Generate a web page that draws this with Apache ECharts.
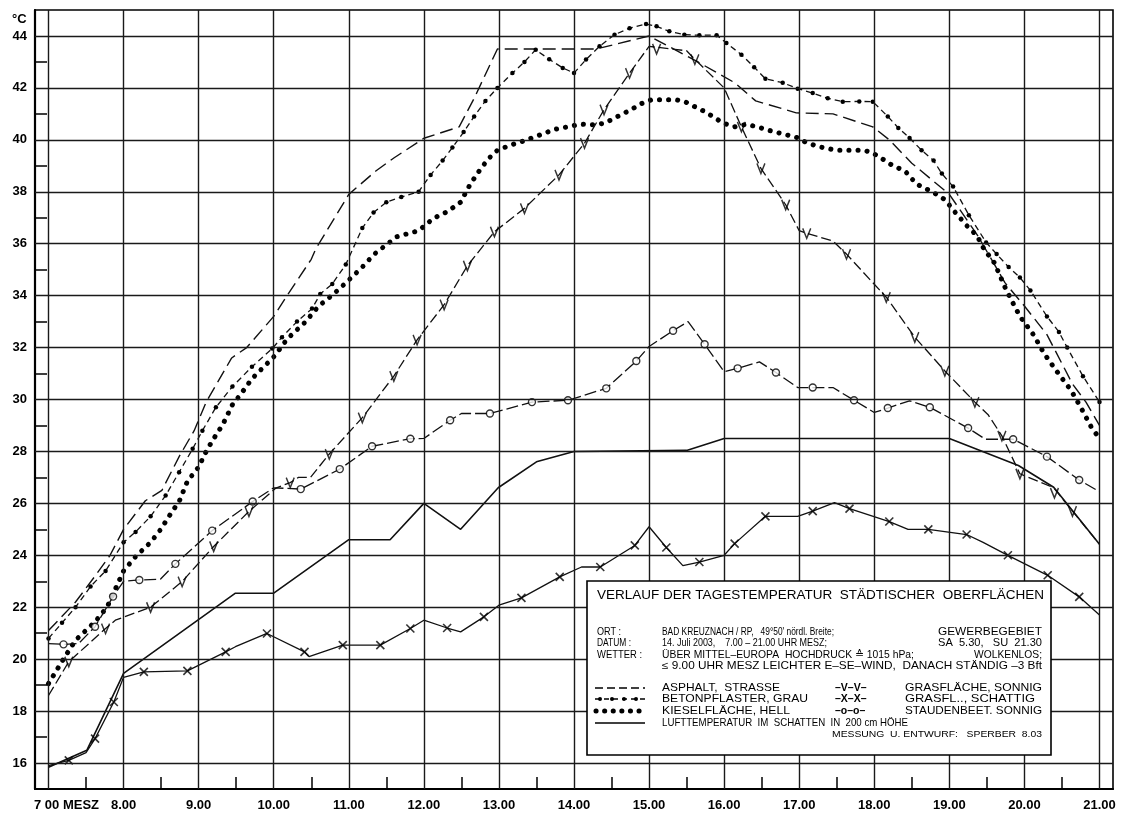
<!DOCTYPE html>
<html><head><meta charset="utf-8">
<script src="https://cdn.jsdelivr.net/npm/echarts@6/dist/echarts.min.js"></script>
<style>html,body{margin:0;padding:0;background:#fff}#c{width:1122px;height:814px}</style>
</head><body><div id="c"></div>
<script>
// ---- axis ticks / labels ----
const hourTicks = [7,8,9,10,11,12,13,14,15,16,17,18,19,20,21];
const halfHourTicks = [7.5,8.5,9.5,10.5,11.5,12.5,13.5,14.5,15.5,16.5,17.5,18.5,19.5,20.5];
const tempLabels = [16,18,20,22,24,26,28,30,32,34,36,38,40,42,44];
const tempMinorTicks = [17,19,21,23,25,27,29,31,33,35,37,39,41,43];

// ---- series: [time in hours, °C] ----
const asphalt = [[7.0,21.1],[7.36,22.2],[7.62,23.2],[7.82,24.0],[8.0,25.0],[8.29,26.1],[8.51,26.5],[8.74,27.8],[8.94,28.8],[9.1,29.9],[9.44,31.6],[9.64,32.0],[10.0,33.2],[10.2,34.1],[10.5,35.4],[10.56,35.8],[11.0,37.9],[11.36,38.8],[11.6,39.3],[12.0,40.06],[12.47,40.5],[12.67,41.6],[12.98,43.5],[14.3,43.5],[15.0,44.0],[15.65,43.0],[16.14,42.2],[16.42,41.5],[16.96,41.04],[17.45,41.0],[17.98,40.5],[18.2,40.0],[18.5,39.1],[19.0,37.9],[19.38,36.3],[19.74,34.5],[20.0,33.6],[20.3,32.5],[20.64,30.6],[20.82,29.9],[21.0,29.0]];
const betonpflaster = [[7.0,20.8],[7.18,21.4],[7.36,22.0],[7.56,22.8],[7.76,23.4],[8.0,24.5],[8.16,24.9],[8.36,25.5],[8.56,26.3],[8.74,27.2],[8.92,28.1],[9.05,28.8],[9.23,29.7],[9.45,30.5],[9.71,31.26],[9.98,31.96],[10.11,32.4],[10.31,33.0],[10.51,33.5],[10.62,34.06],[10.78,34.45],[10.96,35.2],[11.18,36.6],[11.33,37.2],[11.5,37.6],[11.7,37.8],[11.93,38.0],[12.09,38.65],[12.25,39.2],[12.38,39.7],[12.53,40.3],[12.67,40.9],[12.82,41.5],[12.98,42.0],[13.18,42.57],[13.34,43.0],[13.49,43.47],[13.67,43.1],[13.85,42.77],[14.0,42.57],[14.16,43.09],[14.34,43.6],[14.54,44.05],[14.74,44.3],[14.96,44.46],[15.1,44.37],[15.27,44.18],[15.47,44.05],[15.67,44.03],[15.9,44.03],[16.03,43.73],[16.23,43.28],[16.4,42.8],[16.55,42.35],[16.78,42.2],[16.98,41.97],[17.18,41.8],[17.38,41.6],[17.58,41.47],[17.8,41.48],[17.98,41.47],[18.18,40.9],[18.32,40.46],[18.47,40.07],[18.63,39.6],[18.79,39.2],[18.9,38.7],[19.05,38.2],[19.26,37.1],[19.49,36.05],[19.63,35.6],[19.79,35.1],[19.94,34.7],[20.08,34.2],[20.3,33.2],[20.46,32.6],[20.57,32.0],[20.78,30.9],[21.0,29.9]];
const kieselflaeche = [[7.0,19.06],[7.22,20.1],[7.36,20.73],[7.62,21.44],[7.78,22.0],[8.0,23.4],[8.16,23.95],[8.36,24.5],[8.49,24.98],[8.65,25.7],[8.74,26.07],[8.85,26.85],[9.0,27.4],[9.09,27.94],[9.18,28.4],[9.32,29.03],[9.45,29.8],[9.56,30.2],[9.71,30.8],[10.02,31.7],[10.13,32.15],[10.24,32.5],[10.42,32.98],[10.6,33.6],[10.73,33.9],[10.87,34.25],[11.0,34.6],[11.18,35.1],[11.34,35.6],[11.64,36.27],[11.93,36.5],[12.13,36.98],[12.31,37.23],[12.49,37.6],[12.62,38.3],[12.76,38.9],[12.87,39.3],[12.98,39.6],[13.16,39.8],[13.31,39.94],[13.56,40.2],[13.74,40.4],[13.92,40.5],[14.09,40.6],[14.27,40.58],[14.41,40.64],[14.58,40.9],[14.76,41.16],[14.9,41.4],[15.03,41.54],[15.2,41.54],[15.36,41.54],[15.47,41.48],[15.6,41.29],[15.74,41.09],[15.88,40.84],[15.99,40.64],[16.14,40.5],[16.3,40.6],[16.49,40.46],[16.64,40.33],[16.82,40.2],[16.98,40.08],[17.09,39.9],[17.27,39.73],[17.49,39.6],[17.67,39.6],[17.85,39.6],[17.96,39.52],[18.07,39.34],[18.25,39.0],[18.41,38.8],[18.56,38.3],[18.7,38.1],[18.83,37.9],[18.94,37.7],[19.08,37.2],[19.23,36.7],[19.37,36.3],[19.46,35.8],[19.6,35.26],[19.76,34.2],[19.94,33.2],[20.12,32.5],[20.26,31.78],[20.42,31.13],[20.62,30.36],[20.75,29.7],[20.89,28.94],[21.0,28.5]];
const lufttemperatur = [[7.0,15.84],[7.51,16.49],[8.0,19.45],[9.49,22.54],[10.0,22.54],[11.0,24.6],[11.55,24.6],[12.0,26.0],[12.49,25.0],[12.99,26.6],[13.5,27.6],[14.0,28.0],[15.5,28.04],[16.0,28.5],[19.0,28.5],[19.92,27.46],[20.39,26.62],[21.0,24.43]];
const grasSonnig = [[7.0,18.6],[7.27,19.9],[7.76,21.18],[7.89,21.5],[8.36,22.0],[8.78,22.99],[9.2,24.34],[9.67,25.69],[10.03,26.59],[10.22,26.8],[10.33,27.0],[10.49,27.0],[10.74,27.9],[11.18,29.3],[11.6,30.9],[11.91,32.3],[12.27,33.65],[12.58,35.15],[12.94,36.46],[13.34,37.36],[13.8,38.65],[14.14,39.87],[14.4,41.16],[14.74,42.57],[15.0,43.6],[15.5,43.43],[15.61,43.1],[16.0,42.0],[16.23,40.5],[16.49,38.9],[16.82,37.5],[17.0,36.5],[17.1,36.4],[17.45,36.1],[17.63,35.6],[17.98,34.5],[18.16,33.94],[18.54,32.4],[18.94,31.1],[19.34,29.9],[19.52,29.4],[19.7,28.6],[19.94,27.14],[20.39,26.6],[20.64,25.7],[21.0,24.43]];
const grasSonnigMarks = [[7.27,19.9],[7.76,21.18],[8.36,22.0],[8.78,22.99],[9.2,24.34],[9.67,25.69],[10.22,26.8],[10.74,27.9],[11.18,29.3],[11.6,30.9],[11.91,32.3],[12.27,33.65],[12.58,35.15],[12.94,36.46],[13.34,37.36],[13.8,38.65],[14.14,39.87],[14.4,41.16],[14.74,42.57],[15.1,43.5],[15.61,43.1],[16.23,40.5],[16.49,38.9],[16.82,37.5],[17.1,36.4],[17.63,35.6],[18.16,33.94],[18.54,32.4],[18.94,31.1],[19.34,29.9],[19.7,28.6],[19.94,27.14],[20.4,26.4],[20.64,25.7]];
const grasSchattig = [[7.0,15.9],[7.27,16.1],[7.5,16.4],[7.62,16.94],[7.87,18.35],[8.0,19.3],[8.27,19.51],[8.85,19.55],[9.36,20.28],[9.49,20.48],[9.91,20.99],[10.41,20.28],[10.47,20.1],[10.92,20.54],[11.42,20.54],[11.82,21.18],[12.0,21.5],[12.31,21.2],[12.49,21.05],[12.8,21.63],[13.0,22.08],[13.3,22.36],[13.81,23.17],[14.1,23.55],[14.35,23.55],[14.81,24.38],[15.0,25.1],[15.23,24.3],[15.45,23.6],[15.67,23.74],[16.0,24.0],[16.14,24.45],[16.55,25.5],[16.98,25.5],[17.18,25.7],[17.47,26.03],[17.67,25.8],[18.2,25.3],[18.45,25.0],[18.72,25.0],[19.23,24.8],[19.45,24.5],[19.78,24.0],[20.31,23.23],[20.73,22.4],[21.0,21.7]];
const grasSchattigMarks = [[7.27,16.1],[7.62,16.94],[7.87,18.35],[8.27,19.51],[8.85,19.55],[9.36,20.28],[9.91,20.99],[10.41,20.28],[10.92,20.54],[11.42,20.54],[11.82,21.18],[12.31,21.2],[12.8,21.63],[13.3,22.36],[13.81,23.17],[14.35,23.55],[14.81,24.38],[15.23,24.3],[15.67,23.74],[16.14,24.45],[16.55,25.5],[17.18,25.7],[17.67,25.8],[18.2,25.3],[18.72,25.0],[19.23,24.8],[19.78,24.0],[20.31,23.23],[20.73,22.4]];
const staudenbeet = [[7.0,20.6],[7.2,20.57],[7.4,20.6],[7.62,21.25],[7.86,22.41],[8.0,23.0],[8.21,23.05],[8.49,23.08],[8.69,23.67],[9.18,24.95],[9.72,26.07],[10.0,26.6],[10.36,26.55],[10.88,27.32],[11.31,28.2],[11.82,28.49],[12.0,28.5],[12.35,29.2],[12.5,29.46],[12.88,29.46],[13.44,29.9],[13.92,29.97],[14.43,30.43],[14.83,31.48],[15.0,32.04],[15.32,32.65],[15.52,33.0],[15.74,32.13],[16.0,31.07],[16.18,31.2],[16.47,31.45],[16.69,31.04],[16.98,30.46],[17.18,30.46],[17.45,30.46],[17.73,29.97],[18.0,29.5],[18.18,29.67],[18.47,29.95],[18.74,29.7],[19.25,28.9],[19.48,28.47],[19.85,28.47],[20.3,27.8],[20.73,26.9],[21.0,26.45]];
const staudenbeetMarks = [[7.2,20.57],[7.62,21.25],[7.86,22.41],[8.21,23.05],[8.69,23.67],[9.18,24.95],[9.72,26.07],[10.36,26.55],[10.88,27.32],[11.31,28.2],[11.82,28.49],[12.35,29.2],[12.88,29.46],[13.44,29.9],[13.92,29.97],[14.43,30.43],[14.83,31.48],[15.32,32.65],[15.74,32.13],[16.18,31.2],[16.69,31.04],[17.18,30.46],[17.73,29.97],[18.18,29.67],[18.74,29.7],[19.25,28.9],[19.85,28.47],[20.3,27.8],[20.73,26.9]];

const FONT = 'Liberation Sans, Arial, sans-serif';
const INK = '#111';

const chart = echarts.init(document.getElementById('c'), null, {renderer: 'canvas'});

const mctx = document.createElement('canvas').getContext('2d');
// text element; if a width is given the text is stretched to that width
function txt(x, y, s, o) {
  o = o || {};
  const size = o.size || 10.5;
  const weight = o.weight || 'normal';
  const el = {type: 'text', x: x, y: y, z: 101, silent: true,
    style: {text: s, fill: '#000', fontFamily: FONT, fontSize: size,
      fontWeight: weight, textAlign: o.align || 'left', textVerticalAlign: 'middle'}};
  if (o.width) {
    mctx.font = weight + ' ' + size + 'px ' + FONT;
    const w = mctx.measureText(s).width;
    if (w > 0) el.scaleX = o.width / w;
  }
  return el;
}
function hline(x1, x2, y, style) {
  return {type: 'line', z: 101, silent: true, shape: {x1: x1, y1: y, x2: x2, y2: y},
    style: Object.assign({stroke: '#000', lineWidth: 1.3}, style)};
}

const rowY = {title: 595, ort: 632, datum: 643, wetter: 655, wind: 666, r1: 688, r2: 699, r3: 711, r4: 723, mess: 735};
const legendGraphics = [
  {type: 'rect', z: 100, silent: true, shape: {x: 587, y: 581, width: 464, height: 174},
   style: {fill: '#fff', stroke: '#000', lineWidth: 1.6}},
  txt(597, rowY.title, 'VERLAUF DER TAGESTEMPERATUR  STÄDTISCHER  OBERFLÄCHEN', {size: 13.5, width: 447}),
  txt(597, rowY.ort, 'ORT :', {width: 24}),
  txt(662, rowY.ort, 'BAD KREUZNACH / RP,   49°50\' nördl. Breite;', {width: 172}),
  txt(1042, rowY.ort, 'GEWERBEGEBIET', {align: 'right', width: 104}),
  txt(597, rowY.datum, 'DATUM :', {width: 34}),
  txt(662, rowY.datum, '14. Juli 2003,    7.00 – 21.00 UHR MESZ;', {width: 165}),
  txt(1042, rowY.datum, 'SA  5.30,   SU  21.30', {align: 'right', width: 104}),
  txt(597, rowY.wetter, 'WETTER :', {width: 45}),
  txt(662, rowY.wetter, 'ÜBER MITTEL–EUROPA  HOCHDRUCK ≙ 1015 hPa;', {width: 252}),
  txt(1042, rowY.wetter, 'WOLKENLOS;', {align: 'right', width: 68}),
  txt(662, rowY.wind, '≤ 9.00 UHR MESZ LEICHTER E–SE–WIND,  DANACH STÄNDIG –3 Bft', {width: 380}),
  hline(595, 645, rowY.r1, {lineDash: [8, 4]}),
  txt(662, rowY.r1, 'ASPHALT,  STRASSE', {size: 11, width: 118}),
  hline(595, 645, rowY.r2, {lineDash: [5, 4]}),
  txt(662, rowY.r2, 'BETONPFLASTER, GRAU', {size: 11, width: 146}),
  hline(596, 644, rowY.r3, {lineDash: [0.1, 8.5], lineWidth: 5, lineCap: 'round'}),
  txt(662, rowY.r3, 'KIESELFLÄCHE, HELL', {size: 11, width: 128}),
  hline(595, 645, rowY.r4, {lineWidth: 1.6}),
  txt(662, rowY.r4, 'LUFTTEMPERATUR  IM  SCHATTEN  IN  200 cm HÖHE', {size: 11, width: 246}),
  txt(835, rowY.r1, '–V–V–', {size: 10.5, weight: 'bold'}),
  txt(905, rowY.r1, 'GRASFLÄCHE, SONNIG', {size: 11, width: 137}),
  txt(835, rowY.r2, '–X–X–', {size: 10.5, weight: 'bold'}),
  txt(905, rowY.r2, 'GRASFL.., SCHATTIG', {size: 11, width: 130}),
  txt(835, rowY.r3, '–o–o–', {size: 10.5, weight: 'bold'}),
  txt(905, rowY.r3, 'STAUDENBEET. SONNIG', {size: 11, width: 137}),
  txt(1042, rowY.mess, 'MESSUNG  U. ENTWURF:   SPERBER  8.03', {align: 'right', size: 9, width: 210}),
  txt(12, 19, '°C', {size: 13, weight: 'bold'})
];
// dots for the concrete sample
[600, 612, 624, 636].forEach(function (cx) {
  legendGraphics.push({type: 'circle', z: 102, silent: true, shape: {cx: cx, cy: rowY.r2, r: 2}, style: {fill: '#000'}});
});

const V_PATH = 'path://M0,0L5,10L10,0';
const X_PATH = 'path://M0,0L10,10M10,0L0,10';

const gridLines = hourTicks.map(function (h) { return {xAxis: h}; })
  .concat(tempLabels.map(function (t) { return {yAxis: t}; }));

const option = {
  animation: false,
  backgroundColor: '#fff',
  grid: {left: 35, right: 9, top: 10, bottom: 25, show: true, borderColor: '#000', borderWidth: 1.6},
  xAxis: {
    type: 'value', min: 6.82, max: 21.18,
    axisLine: {show: true, onZero: false, lineStyle: {color: '#000', width: 2.2}},
    axisTick: {show: true, inside: true, length: 12, customValues: halfHourTicks, lineStyle: {color: '#000', width: 1.5}},
    axisLabel: {
      customValues: hourTicks, margin: 10, color: '#000', fontSize: 13, fontWeight: 'bold', fontFamily: FONT,
      formatter: function (v) { return v === 7 ? '{m|7 00 MESZ}' : v + '.00'; },
      rich: {m: {padding: [0, 0, 0, 36], color: '#000', fontSize: 13, fontWeight: 'bold', fontFamily: FONT}}
    },
    splitLine: {show: false}
  },
  yAxis: {
    type: 'value', min: 15, max: 45,
    axisLine: {show: true, onZero: false, lineStyle: {color: '#000', width: 2.2}},
    axisTick: {show: true, inside: true, length: 12, customValues: tempMinorTicks, lineStyle: {color: '#000', width: 1.5}},
    axisLabel: {customValues: tempLabels, margin: 8, color: '#000', fontSize: 13, fontWeight: 'bold', fontFamily: FONT},
    splitLine: {show: false}
  },
  graphic: {elements: legendGraphics},
  series: [
    {name: 'LUFTTEMPERATUR', type: 'line', data: lufttemperatur, symbol: 'none', z: 3,
     lineStyle: {color: INK, width: 1.6},
     markLine: {silent: true, symbol: 'none', label: {show: false}, animation: false,
       lineStyle: {color: '#1a1a1a', width: 1.4, type: 'solid'}, emphasis: {disabled: true}, data: gridLines}},
    {name: 'ASPHALT', type: 'line', data: asphalt, symbol: 'none', z: 3,
     lineStyle: {color: INK, width: 1.4, type: [13, 6]}},
    {name: 'BETONPFLASTER', type: 'line', data: betonpflaster, symbol: 'circle', symbolSize: 4.5, showSymbol: true, z: 3,
     itemStyle: {color: '#000'}, lineStyle: {color: INK, width: 1.3, type: [6, 4]}},
    {name: 'KIESELFLÄCHE', type: 'line', data: kieselflaeche, symbol: 'none', z: 3,
     lineStyle: {color: '#000', width: 5, type: [0.1, 9], cap: 'round'}},
    {name: 'GRASFLÄCHE SONNIG', type: 'line', data: grasSonnig, symbol: 'none', z: 3,
     lineStyle: {color: INK, width: 1.3, type: [10, 4]}},
    {name: 'GRASFLÄCHE SONNIG', type: 'scatter', data: grasSonnigMarks, symbol: V_PATH, symbolSize: [8, 10], z: 4,
     itemStyle: {color: 'none', borderColor: '#000', borderWidth: 1.6}},
    {name: 'GRASFL. SCHATTIG', type: 'line', data: grasSchattig, symbol: 'none', z: 3,
     lineStyle: {color: INK, width: 1.3}},
    {name: 'GRASFL. SCHATTIG', type: 'scatter', data: grasSchattigMarks, symbol: X_PATH, symbolSize: 8, z: 4,
     itemStyle: {color: 'none', borderColor: '#000', borderWidth: 1.6}},
    {name: 'STAUDENBEET', type: 'line', data: staudenbeet, symbol: 'none', z: 3,
     lineStyle: {color: INK, width: 1.3, type: [12, 4]}},
    {name: 'STAUDENBEET', type: 'scatter', data: staudenbeetMarks, symbol: 'circle', symbolSize: 7, z: 4,
     itemStyle: {color: '#fff', borderColor: '#000', borderWidth: 1.4}}
  ]
};
chart.setOption(option);
</script>
</body></html>
